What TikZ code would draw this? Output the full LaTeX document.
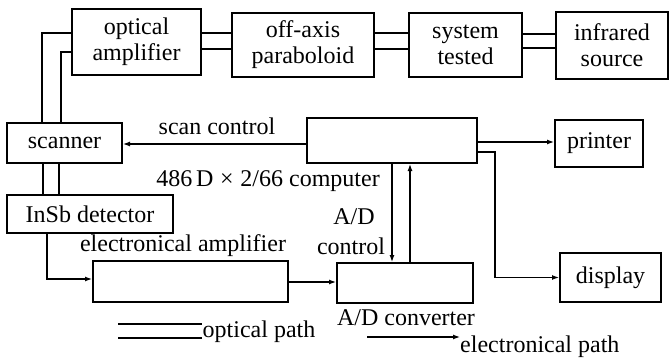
\documentclass[tikz,border=0pt]{standalone}
\usepackage{fontspec}
\setmainfont{Liberation Serif}
\usetikzlibrary{arrows.meta}
\tikzset{
  blk/.style={draw, line width=2pt, inner sep=0pt, align=center},
  lbl/.style={inner sep=0pt},
  opt/.style={line width=1.2pt},
  sig/.style={line width=1.2pt, -{Latex[length=7pt,width=5pt]}}
}
\begin{document}
\begin{tikzpicture}[x=1pt,y=-1pt,font=\fontsize{24}{26}\selectfont]
    \useasboundingbox (0,0) rectangle (670,361);
    \node[blk, minimum width=129pt, minimum height=66pt] (oa) at (136.5,42) {optical\\amplifier};
    \node[blk, minimum width=142pt, minimum height=64pt] (pb) at (303,45) {off-axis\\paraboloid};
    \node[blk, minimum width=113pt, minimum height=64pt] (st) at (465.5,45) {system\\tested};
    \node[blk, minimum width=112pt, minimum height=67pt] (ir) at (612,45.5) {infrared\\source};
    \node[blk, minimum width=115pt, minimum height=40pt] (sc) at (64.5,143) {scanner};
    \node[blk, minimum width=166pt, minimum height=38pt] (det) at (90,214) {InSb detector};
    \node[blk, minimum width=170pt, minimum height=45pt] (pc) at (392,140.5) {};
    \node[blk, minimum width=88pt, minimum height=47pt] (pr) at (599,143.5) {printer};
    \node[blk, minimum width=101pt, minimum height=49pt] (dp) at (610.5,277.5) {display};
    \node[blk, minimum width=195pt, minimum height=41pt] (ea) at (190.5,281.5) {};
    \node[blk, minimum width=136pt, minimum height=40pt] (ad) at (405,283) {};

    \node[lbl] (sctl) at (217,126) {scan control};
    \node[lbl] (pcl) at (268,181) {486\,D\;×\;2/66 computer};
    \node[lbl] (adl) at (354,217) {A/D};
    \node[lbl] (ctl) at (351,246) {control};
    \node[lbl] (eal) at (183,246) {electronical amplifier};
    \node[lbl] (adcl) at (406,318) {A/D converter};

    \draw[opt] (oa.east |- 0,33) -- (pb.west |- 0,33);
    \draw[opt] (oa.east |- 0,49) -- (pb.west |- 0,49);
    \draw[opt] (pb.east |- 0,33) -- (st.west |- 0,33);
    \draw[opt] (pb.east |- 0,49) -- (st.west |- 0,49);
    \draw[opt] (st.east |- 0,34) -- (ir.west |- 0,34);
    \draw[opt] (st.east |- 0,48) -- (ir.west |- 0,48);
    \draw[opt] (oa.west |- 0,33) -| (sc.north -| 42,0);
    \draw[opt] (oa.west |- 0,52) -| (sc.north -| 61,0);
    \draw[opt] (sc.south -| 43,0) -- (det.north -| 43,0);
    \draw[opt] (sc.south -| 59,0) -- (det.north -| 59,0);

    \draw[sig] (pc.west |- 0,144) -- (sc.east |- 0,144);
    \draw[sig] (pc.east |- 0,142) -- (pr.west |- 0,142);
    \draw[sig] (pc.east |- 0,152) -| (495,0 |- dp.west) -- (dp.west);
    \draw[sig] (det.south -| 47,0) |- (ea.west |- 0,279);
    \draw[sig] (ea.east |- 0,282) -- (ad.west |- 0,282);
    \draw[sig] (pc.south -| 392,0) -- (ad.north -| 392,0);
    \draw[sig] (ad.north -| 410,0) -- (pc.south -| 410,0);

    \node[lbl] (opl) at (259,332) {optical path};
    \coordinate (ol) at (118,0);
    \draw[opt] (ol |- 0,324) -- (opl.west |- 0,324);
    \draw[opt] (ol |- 0,338) -- (opl.west |- 0,338);
    \node[lbl, anchor=west] (epl) at (460,347) {electronical path};
    \coordinate (el) at (367,337);
    \draw[sig] (el) -- (el -| epl.west);
\end{tikzpicture}
\end{document}
